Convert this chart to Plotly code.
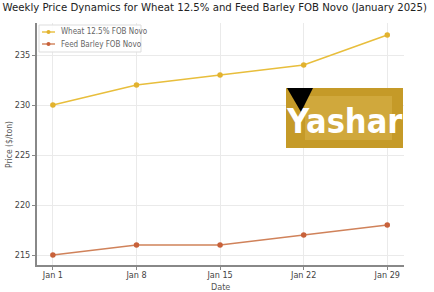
import plotly.graph_objects as go

dates = ["Jan 1", "Jan 8", "Jan 15", "Jan 22", "Jan 29"]
wheat = [230, 232, 233, 234, 237]
barley = [215, 216, 216, 217, 218]
y_ticks = [215, 220, 225, 230, 235]
series_names = ["Wheat 12.5% FOB Novo", "Feed Barley FOB Novo"]
line_colors = ["#E8BE3C", "#D0825A"]
marker_colors = ["#E2B22E", "#C8613A"]

NARROW = "Liberation Sans Narrow, DejaVu Sans Condensed, Arial Narrow, sans-serif"

fig = go.Figure()
for name, vals, lc, mc in zip(series_names, [wheat, barley], line_colors, marker_colors):
    fig.add_trace(go.Scatter(x=list(range(len(dates))), y=vals, mode="lines+markers",
                             name=name, showlegend=False,
                             line=dict(color=lc, width=1.6),
                             marker=dict(color=mc, size=5.5)))

L, R, T, B = 37, 30, 23, 27
W, H = 434, 292
pw, ph = W - L - R, H - T - B

def px(x):
    return (x - L) / pw

def py(y):
    return (H - B - y) / ph

# manual compact legend
fig.add_shape(type="rect", xref="paper", yref="paper",
              x0=px(39), x1=px(141), y0=py(52), y1=py(25),
              fillcolor="rgba(255,255,255,0.9)", line=dict(color="#dddddd", width=1), layer="above")
for i, (name, lc, mc) in enumerate(zip(series_names, line_colors, marker_colors)):
    yy = 32 + i * 12
    fig.add_shape(type="line", xref="paper", yref="paper",
                  x0=px(42), x1=px(55), y0=py(yy), y1=py(yy),
                  line=dict(color=lc, width=1.4), layer="above")
    fig.add_shape(type="circle", xref="paper", yref="paper",
                  x0=px(46.5), x1=px(50.5), y0=py(yy + 2), y1=py(yy - 2),
                  fillcolor=mc, line=dict(width=0), layer="above")
    fig.add_annotation(xref="paper", yref="paper", x=px(59), y=py(yy), xanchor="left",
                       yanchor="middle", text=name, showarrow=False,
                       font=dict(family=NARROW, size=8, color="#666"))

# logo
fig.add_shape(type="rect", xref="paper", yref="paper",
              x0=px(286), x1=px(403), y0=py(148), y1=py(88),
              fillcolor="#C59A28", line=dict(width=0), layer="above")
fig.add_shape(type="rect", xref="paper", yref="paper",
              x0=px(305), x1=px(392), y0=py(140), y1=py(96),
              fillcolor="#DDBB55", line=dict(width=0), layer="above", opacity=0.45)
fig.add_annotation(xref="paper", yref="paper", x=px(344), y=py(121), xanchor="center",
                   yanchor="middle", text="<b>Yashar</b>", showarrow=False,
                   font=dict(family=NARROW, size=34, color="white"))
fig.add_shape(type="path", xref="paper", yref="paper",
              path=f"M {px(287)} {py(88)} L {px(313)} {py(88)} L {px(301)} {py(112)} Z",
              fillcolor="black", line=dict(width=0), layer="above")

# axis titles
fig.add_annotation(xref="paper", yref="paper", x=px(220), y=py(287), xanchor="center",
                   yanchor="middle", text="Date", showarrow=False,
                   font=dict(family=NARROW, size=9, color="#555"))
fig.add_annotation(xref="paper", yref="paper", x=px(9), y=py(145), xanchor="center",
                   yanchor="middle", text="Price ($/ton)", showarrow=False, textangle=-90,
                   font=dict(family=NARROW, size=8.5, color="#555"))

fig.update_layout(
    width=W, height=H,
    margin=dict(l=L, r=R, t=T, b=B),
    paper_bgcolor="white", plot_bgcolor="white",
    font=dict(family=NARROW, color="#444"),
    title=dict(text="Weekly Price Dynamics for Wheat 12.5% and Feed Barley FOB Novo (January 2025)",
               x=0.006, xanchor="left", xref="container", y=0.99, yanchor="top",
               font=dict(family=NARROW, size=11.3, color="#222")),
    showlegend=False,
)
fig.update_xaxes(tickmode="array", tickvals=list(range(len(dates))), ticktext=dates,
                 range=[-0.19, 4.2], showgrid=True, gridcolor="#eaeaea", gridwidth=1,
                 showline=True, linecolor="#888", linewidth=2, ticks="outside", ticklen=3,
                 tickcolor="#888", tickfont=dict(size=9, color="#444"), ticklabelstandoff=-3,
                 zeroline=False, automargin=False)
fig.update_yaxes(tickvals=y_ticks, range=[214.0, 238.2], showgrid=True, gridcolor="#eaeaea",
                 showline=True, linecolor="#888", linewidth=2, ticks="outside", ticklen=3,
                 tickcolor="#888", tickfont=dict(size=9, color="#444"),
                 zeroline=False, automargin=False)

fig.write_html("out.html")
